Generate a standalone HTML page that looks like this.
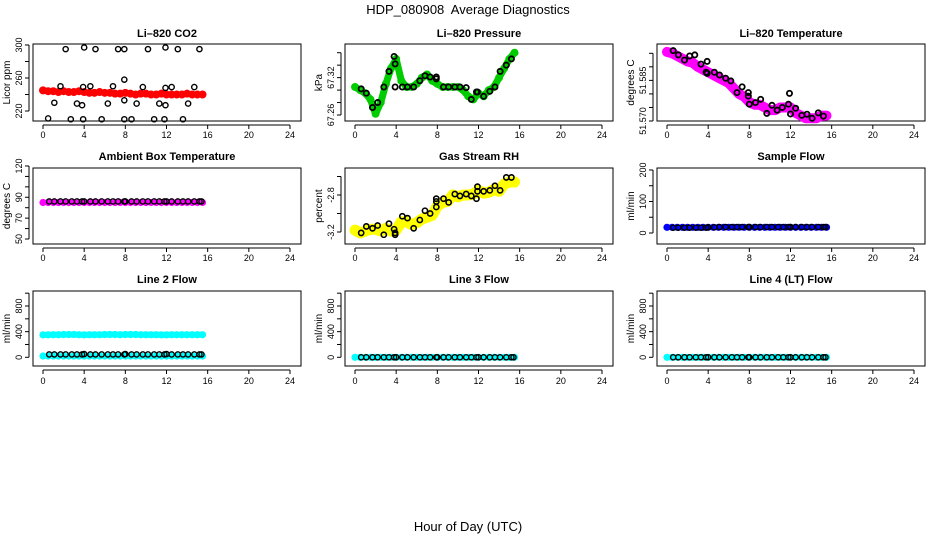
<!DOCTYPE html>
<html><head><meta charset="utf-8"><style>
html,body{margin:0;padding:0;background:#fff;}
svg{display:block;font-family:"Liberation Sans",Arial,sans-serif;}
</style></head><body>
<svg id="chart" width="936" height="540" viewBox="0 0 936 540" xmlns="http://www.w3.org/2000/svg">
<text x="468" y="14" text-anchor="middle" font-size="13">HDP_080908&#160; Average Diagnostics</text>
<text x="468" y="531" text-anchor="middle" font-size="13">Hour of Day (UTC)</text>
</svg>
<script>
// ---- data ----
const cx = [0,0.5,1,1.5,2,2.5,3,3.5,4,4.5,5,5.5,6,6.5,7,7.5,8,8.5,9,9.5,10,10.5,11,11.5,12,12.5,13,13.5,14,14.5,15,15.5];
const xTicks = [0,4,8,12,16,20,24];

const co2Color = [245,244,244,243,244,243,243,244,243,242,242,243,242,242,241,241,242,241,240,241,241,240,240,241,240,240,240,240,241,240,240,240];
const co2Bx = [0.5,1.1,1.7,2.2,2.7,3.3,3.8,3.9,3.9,4.0,4.6,5.1,5.7,6.3,6.8,7.3,7.9,7.9,7.9,7.9,8.6,9.1,9.7,10.2,10.8,11.3,11.8,11.9,11.9,11.9,12.5,13.1,13.6,14.1,14.7,15.2];
const co2By = [211,230,250,295,210,229,227,249,210,297,250,295,210,229,250,295,295,258,233,210,210,229,249,295,210,229,210,227,248,297,249,295,210,229,249,295];

const presColor = [67.305,67.300,67.295,67.285,67.262,67.28,67.31,67.335,67.35,67.315,67.305,67.305,67.31,67.32,67.325,67.315,67.31,67.305,67.305,67.305,67.305,67.3,67.29,67.285,67.295,67.29,67.3,67.305,67.32,67.335,67.35,67.36];
const presBx = [0.6,1.1,1.7,2.2,2.8,3.3,3.8,3.9,3.9,4.6,5.1,5.7,6.3,6.8,7.3,7.9,7.9,8.6,9.1,9.7,10.2,10.8,11.3,11.8,11.9,12.5,13.1,13.6,14.1,14.7,15.2];
const presBy = [67.302,67.295,67.272,67.28,67.305,67.33,67.354,67.342,67.305,67.305,67.305,67.305,67.315,67.323,67.321,67.321,67.318,67.305,67.305,67.305,67.305,67.304,67.285,67.297,67.297,67.29,67.298,67.305,67.33,67.34,67.35];

const tempColor = [51.5955,51.595,51.594,51.593,51.592,51.5915,51.590,51.589,51.588,51.587,51.586,51.585,51.584,51.582,51.580,51.579,51.577,51.576,51.576,51.575,51.574,51.574,51.575,51.575,51.575,51.573,51.572,51.571,51.571,51.571,51.572,51.572];
const tempBx = [0.6,1.1,1.7,2.2,2.7,3.3,3.8,3.9,3.9,4.6,5.1,5.7,6.2,6.8,7.3,7.9,7.9,8.0,8.6,9.1,9.7,10.2,10.7,11.2,11.8,11.9,12.0,12.5,13.1,13.6,14.1,14.7,15.2];
const tempBy = [51.596,51.5944,51.5925,51.594,51.5944,51.591,51.588,51.5876,51.592,51.588,51.587,51.5858,51.5848,51.5805,51.5826,51.5805,51.5792,51.5762,51.5768,51.578,51.5728,51.5758,51.574,51.575,51.5762,51.5802,51.5726,51.5747,51.5721,51.5725,51.571,51.573,51.5718];

const ambColor = [85,85,85,85,85,85,85,85,85,85,85,85,85,85,85,85,85,85,85,85,85,85,85,85,85,85,85,85,85,85,85,85];
const ambBy = [86,86,86,86,86,86,86,86,86,86,86,86,86,86,86,86,86,86,86,86,86,86,86,86,86,86,86,86,86,86,86];

const rhColor = [-3.18,-3.21,-3.19,-3.17,-3.17,-3.19,-3.16,-3.19,-3.18,-3.09,-3.09,-3.12,-3.10,-3.06,-3.04,-3.02,-2.92,-2.88,-2.87,-2.80,-2.82,-2.80,-2.80,-2.79,-2.75,-2.78,-2.77,-2.74,-2.76,-2.68,-2.66,-2.66];
const rhBx = [0.6,1.1,1.7,2.2,2.8,3.3,3.8,3.9,3.9,4.6,5.1,5.7,6.3,6.8,7.3,7.9,7.9,7.9,8.6,9.1,9.7,10.2,10.8,11.3,11.8,11.9,11.9,12.5,13.1,13.6,14.1,14.7,15.2];
const rhBy = [-3.21,-3.14,-3.16,-3.13,-3.23,-3.11,-3.17,-3.21,-3.23,-3.03,-3.05,-3.16,-3.07,-2.97,-3.00,-2.84,-2.87,-2.93,-2.84,-2.88,-2.79,-2.81,-2.79,-2.81,-2.84,-2.71,-2.76,-2.76,-2.75,-2.70,-2.75,-2.61,-2.61];

const sampColor = [18,18,18,18,18,18,18,18,18,18,18,18,18,18,18,18,18,18,18,18,18,18,18,18,18,18,18,18,18,18,18,18];
const sampBy = [17,17,17,17,17,17,17,18,18,19,19,19,19,19,19,19,19,19,19,19,19,19,19,19,19,19,19,19,19,19,19];

const line2Upper = [350,350,352,352,355,355,355,352,350,352,352,352,355,355,355,352,355,355,355,352,352,352,352,350,350,352,352,352,352,352,352,352];
const line2Lower = [20,20,20,20,20,20,20,20,20,20,20,20,20,20,20,20,20,20,20,20,20,20,20,20,20,20,20,20,20,20,20,20];
const line2By = [45,45,45,45,45,45,45,50,45,45,45,45,45,45,45,50,45,45,45,45,45,45,45,50,45,45,45,45,45,45,45];
const line3Color = [0,0,0,0,0,0,0,0,0,0,0,0,0,0,0,0,0,0,0,0,0,0,0,0,0,0,0,0,0,0,0,0];
const line3By = [0,0,0,0,0,0,0,0,0,0,0,0,0,0,0,0,0,0,0,0,0,0,0,0,0,0,0,0,0,0,0];
const line4Color = [0,0,0,0,0,0,0,0,0,0,0,0,0,0,0,0,0,0,0,0,0,0,0,0,0,0,0,0,0,0,0,0];
const line4By = [0,0,0,0,0,0,0,0,0,0,0,0,0,0,0,0,0,0,0,0,0,0,0,0,0,0,0,0,0,0,0];
const flowBx = [0.6,1.1,1.7,2.2,2.8,3.3,3.8,4.0,4.6,5.1,5.7,6.3,6.8,7.3,7.9,8.0,8.6,9.1,9.7,10.2,10.8,11.3,11.8,12.0,12.5,13.1,13.6,14.1,14.7,15.2,15.4];

// ---- layout ----
const NS = "http://www.w3.org/2000/svg";
const svg = document.getElementById('chart');
function mk(tag, attrs, parent){ const e=document.createElementNS(NS,tag); for(const k in attrs) e.setAttribute(k,attrs[k]); (parent||svg).appendChild(e); return e; }

const cols=[0,312,624];
const rows=[{top:44,bot:121,title:37,xl:138},{top:168,bot:244,title:160,xl:261},{top:291,bot:366,title:283,xl:384}];

function panel(name, title, ylab, col, row, ymin, ymax, yTicks, yLabels, series){
  const off=cols[col], r=rows[row];
  const g=mk('g',{});
  
  
  const xs=h=>off+43+(h/24)*247;
  const ys=v=>ymin.px+(v-ymin.v)/(ymax.v-ymin.v)*(ymax.px-ymin.px);
  const t=mk('text',{x:off+167,y:r.title,'text-anchor':'middle','font-size':11,'font-weight':'bold'},g);
  t.textContent=title;
  
  
  const box=mk('rect',{x:off+33,y:r.top,width:268,height:r.bot-r.top,fill:'none',stroke:'#000','stroke-width':1},g);
  
  
  const xa=mk('g',{},g);
  
  
  mk('line',{x1:xs(0),x2:xs(24),y1:r.bot+4,y2:r.bot+4,stroke:'#000'},xa);
  xTicks.forEach(v=>{
    mk('line',{x1:xs(v),x2:xs(v),y1:r.bot+4,y2:r.bot+8,stroke:'#000'},xa);
    const tl=mk('text',{x:xs(v),y:r.xl,'text-anchor':'middle','font-size':9},xa); tl.textContent=v;
  });
  const ya=mk('g',{},g);
  
  
  mk('line',{x1:off+29,x2:off+29,y1:ys(yTicks[0]),y2:ys(yTicks[yTicks.length-1]),stroke:'#000'},ya);
  yTicks.forEach((v,i)=>{
    mk('line',{x1:off+25,x2:off+29,y1:ys(v),y2:ys(v),stroke:'#000'},ya);
    if(yLabels[i]){ const yy=ys(v); const tl=mk('text',{x:off+22,y:yy,'text-anchor':'middle','font-size':9,transform:`rotate(-90 ${off+22} ${yy})`},ya); tl.textContent=yLabels[i]; }
  });
  const yl=mk('text',{x:off+10,y:(r.top+r.bot)/2,'text-anchor':'middle','font-size':10,transform:`rotate(-90 ${off+10} ${(r.top+r.bot)/2})`},ya);
  yl.textContent=ylab;
  
  
  series.forEach(s=>{
    const sg=mk('g',{},g);
    
    
    if(s.band){
      mk('polyline',{points:s.x.map((h,i)=>xs(h)+','+ys(s.y[i])).join(' '),fill:'none',stroke:s.color,'stroke-width':s.band,'stroke-linejoin':'round','stroke-linecap':'round'},sg);
    }
    s.x.forEach((h,i)=>{
      const c=mk('circle',{cx:xs(h),cy:ys(s.y[i]),r:s.r||2.6,fill:'none',stroke:s.color,'stroke-width':s.sw||1.4},sg);
      
      
    });
  });
}

panel('co2','Li\u2013820 CO2','Licor ppm',0,0,{v:220,px:111},{v:300,px:45},[220,240,260,280,300],['220','','260','','300'],[
  {id:'red-series',x:cx,y:co2Color,color:'#ff0000',band:6,r:3,sw:2},
  {id:'black-series',x:co2Bx,y:co2By,color:'#000'}]);
panel('pressure','Li\u2013820 Pressure','kPa',1,0,{v:67.26,px:115},{v:67.36,px:52.7},[67.26,67.28,67.30,67.32,67.34,67.36],['67.26','','','67.32','',''],[
  {id:'green-series',x:cx,y:presColor,color:'#00cc00',band:7,r:3,sw:2},
  {id:'black-series',x:presBx,y:presBy,color:'#000',sw:1.8}]);
panel('temperature','Li\u2013820 Temperature','degrees C',2,0,{v:51.570,px:121},{v:51.595,px:53.3},[51.570,51.575,51.580,51.585,51.590,51.595],['51.570','','','51.585','',''],[
  {id:'magenta-series',x:cx,y:tempColor,color:'#ff00ff',band:10,r:3,sw:2},
  {id:'black-series',x:tempBx,y:tempBy,color:'#000',sw:1.8}]);
panel('ambient','Ambient Box Temperature','degrees C',0,1,{v:50,px:239},{v:120,px:166},[50,60,70,80,90,100,110,120],['50','','70','','90','','','120'],[
  {id:'magenta-series',x:cx,y:ambColor,color:'#ff00ff',band:5,r:2.6,sw:2},
  {id:'black-series',x:flowBx,y:ambBy,color:'#000'}]);
panel('rh','Gas Stream RH','percent',1,1,{v:-3.2,px:232},{v:-2.8,px:195},[-3.2,-3.0,-2.8,-2.6],['-3.2','','-2.8',''],[
  {id:'yellow-series',x:cx,y:rhColor,color:'#ffff00',band:11,r:3,sw:2},
  {id:'black-series',x:rhBx,y:rhBy,color:'#000',sw:1.6}]);
panel('sample-flow','Sample Flow','ml/min',2,1,{v:0,px:233},{v:200,px:170},[0,50,100,150,200],['0','','100','','200'],[
  {id:'blue-series',x:cx,y:sampColor,color:'#0000ff',band:5,r:2.6,sw:2},
  {id:'black-series',x:flowBx,y:sampBy,color:'#000'}]);
panel('line2-flow','Line 2 Flow','ml/min',0,2,{v:0,px:357.3},{v:800,px:306},[0,200,400,600,800,1000],['0','','400','','800',''],[
  {id:'cyan-upper-series',x:cx,y:line2Upper,color:'#00ffff',band:6,r:2.6,sw:2},
  {id:'cyan-lower-series',x:cx,y:line2Lower,color:'#00ffff',band:5,r:2.6,sw:2},
  {id:'black-series',x:flowBx,y:line2By,color:'#000'}]);
panel('line3-flow','Line 3 Flow','ml/min',1,2,{v:0,px:357.3},{v:800,px:306},[0,200,400,600,800,1000],['0','','400','','800',''],[
  {id:'cyan-series',x:cx,y:line3Color,color:'#00ffff',band:5,r:2.6,sw:2},
  {id:'black-series',x:flowBx,y:line3By,color:'#000'}]);
panel('line4-flow','Line 4 (LT) Flow','ml/min',2,2,{v:0,px:357.3},{v:800,px:306},[0,200,400,600,800,1000],['0','','400','','800',''],[
  {id:'cyan-series',x:cx,y:line4Color,color:'#00ffff',band:5,r:2.6,sw:2},
  {id:'black-series',x:flowBx,y:line4By,color:'#000'}]);
</script>
</body></html>
